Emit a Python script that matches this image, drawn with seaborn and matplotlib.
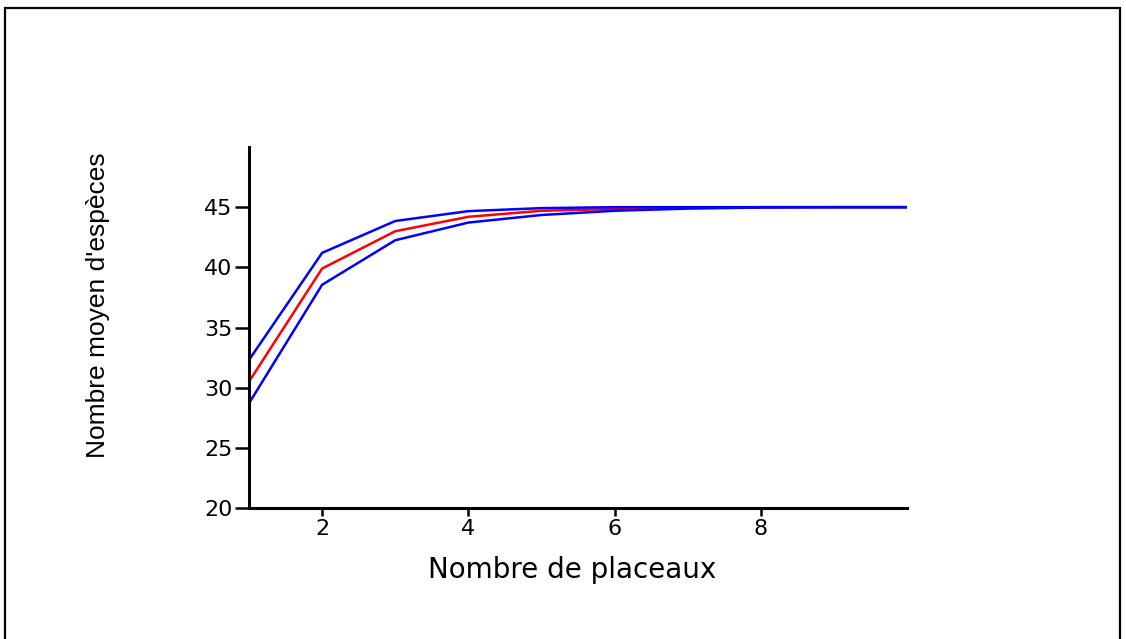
import numpy as np
import pandas as pd
import matplotlib
matplotlib.use("Agg")
import matplotlib.pyplot as plt
import matplotlib.patches as patches
import seaborn as sns

placeaux = [1, 2, 3, 4, 5, 6, 7, 8, 9, 10]
moyenne = [30.5, 39.9, 43.0, 44.2, 44.7, 44.85, 44.95, 45.0, 45.0, 45.0]
borne_sup = [32.3, 41.2, 43.85, 44.67, 44.92, 45.0, 45.0, 45.0, 45.0, 45.0]
borne_inf = [28.7, 38.55, 42.25, 43.72, 44.35, 44.7, 44.88, 44.97, 45.0, 45.0]
y_ticks = [20, 25, 30, 35, 40, 45]
x_ticks = [2, 4, 6, 8]

df = pd.DataFrame({
    "x": placeaux * 3,
    "y": borne_sup + moyenne + borne_inf,
    "serie": ["sup"] * 10 + ["moy"] * 10 + ["inf"] * 10,
})

sns.set_style("white")
plt.rcParams["font.family"] = ["DejaVu Sans"]

fig = plt.figure(figsize=(11.26, 6.39), dpi=100)
ax = fig.add_axes([249 / 1126, 1 - 508 / 639, (907 - 249) / 1126, (508 - 147) / 639])

sns.lineplot(data=df, x="x", y="y", hue="serie",
             palette={"sup": "#0000ff", "moy": "#ff0000", "inf": "#0000ff"},
             hue_order=["moy", "sup", "inf"],
             linewidth=1.8, legend=False, ax=ax, estimator=None)

ax.set_xlim(1, 10)
ax.set_ylim(20, 50)
ax.set_xticks(x_ticks)
ax.set_yticks(y_ticks)
ax.tick_params(axis="both", which="major", bottom=True, left=True, direction="out",
               width=1.8, labelsize=16, color="black", labelcolor="black", pad=2)
ax.tick_params(axis="y", length=10)
ax.tick_params(axis="x", length=6)
for s in ["top", "right"]:
    ax.spines[s].set_visible(False)
for s in ["left", "bottom"]:
    ax.spines[s].set_linewidth(2.2)
    ax.spines[s].set_color("black")
ax.set_xlabel("")
ax.set_ylabel("")

fig.text(572 / 1126, 1 - 570 / 639, "Nombre de placeaux", ha="center", va="center",
         fontsize=20, color="black")
fig.text(98 / 1126, 1 - 305 / 639, "Nombre moyen d'espèces", ha="center", va="center",
         rotation=90, fontsize=19, color="black",
         family=["Liberation Sans", "DejaVu Sans"])

rect = patches.Rectangle((4.5 / 1126, -0.05), (1120 - 4.5) / 1126, 1 - 7.5 / 639 + 0.05,
                         transform=fig.transFigure, fill=False, edgecolor="black",
                         linewidth=1.6)
fig.patches.append(rect)

fig.savefig("out.png", dpi=100)
